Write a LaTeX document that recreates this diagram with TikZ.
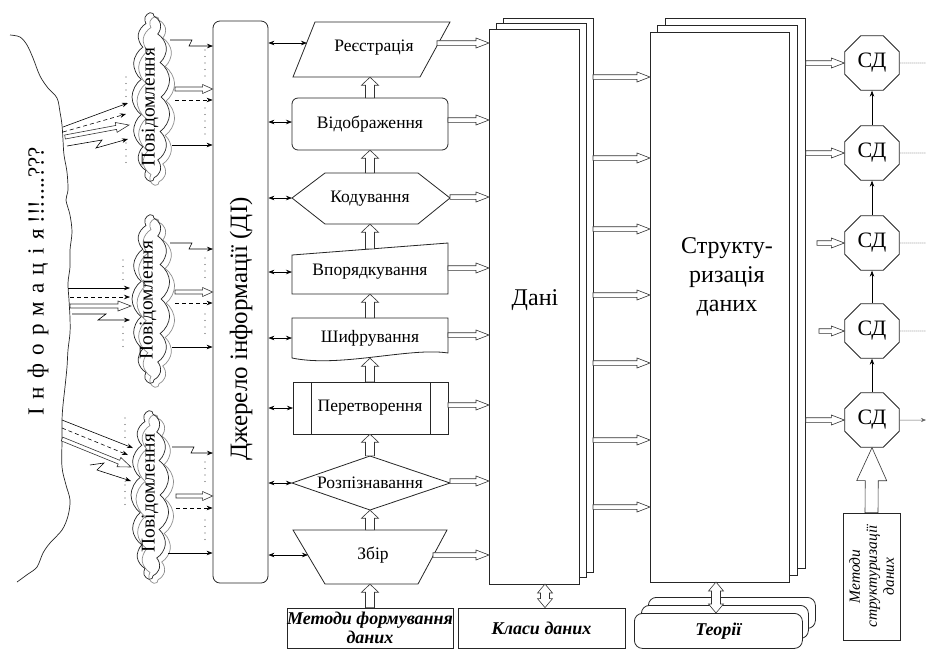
\documentclass[tikz,border=0pt]{standalone}
\usepackage{fontspec}
\setmainfont{Liberation Serif}
\usetikzlibrary{shapes.geometric,shapes.symbols,arrows.meta,calc}
\newcommand\haW{2pt}\newcommand\haH{5pt}\newcommand\haL{12pt}
\newcommand\hp[2]{({\x1+(#1)*cos(\n1)-(#2)*sin(\n1)},{\y1+(#1)*sin(\n1)+(#2)*cos(\n1)})}
\tikzset{
  hollow/.style n args={3}{draw=black!80, line width=0.6pt, fill=white,
    /utils/exec={\def\haW{#1}\def\haH{#2}\def\haL{#3}},
    to path={let \p1=(\tikztostart), \p2=(\tikztotarget),
      \n1={atan2(\y2-\y1,\x2-\x1)}, \n2={veclen(\x2-\x1,\y2-\y1)} in
      \hp{0}{\haW} -- \hp{\n2-\haL}{\haW} -- \hp{\n2-\haL}{\haH} -- (\p2)
      -- \hp{\n2-\haL}{-\haH} -- \hp{\n2-\haL}{-\haW} -- \hp{0}{-\haW} -- cycle}},
  hollowtwo/.style n args={3}{draw=black!80, line width=0.6pt, fill=white,
    /utils/exec={\def\haW{#1}\def\haH{#2}\def\haL{#3}},
    to path={let \p1=(\tikztostart), \p2=(\tikztotarget),
      \n1={atan2(\y2-\y1,\x2-\x1)}, \n2={veclen(\x2-\x1,\y2-\y1)} in
      (\p1) -- \hp{\haL}{\haH} -- \hp{\haL}{\haW} -- \hp{\n2-\haL}{\haW} -- \hp{\n2-\haL}{\haH} -- (\p2)
      -- \hp{\n2-\haL}{-\haH} -- \hp{\n2-\haL}{-\haW} -- \hp{\haL}{-\haW} -- \hp{\haL}{-\haH} -- cycle}},
  box/.style={draw=black!85, line width=0.8pt, fill=white},
  lab/.style={inner sep=0pt, font=\fontsize{17.5}{19}\selectfont},
  tarr/.style={-{Stealth[length=6pt,width=4.5pt]}, line width=0.6pt},
  darr/.style={{Stealth[length=6pt,width=4.5pt]}-{Stealth[length=6pt,width=4.5pt]}, line width=0.6pt},
  dsh/.style={tarr, dash pattern=on 4pt off 3pt},
  dots/.style={line width=1.2pt, dash pattern=on 0pt off 6.5pt, line cap=round, black!70},
  fdots/.style={line width=0.6pt, dash pattern=on 1pt off 1pt, black!50},
  cl/.style={cloud, cloud puffs=15, cloud puff arc=110, cloud ignores aspect, line width=0.7pt,
    minimum width=168, minimum height=38, rotate=90, inner sep=0pt},
  ptxt/.style={rotate=90, font=\fontsize{19.5}{19.5}\selectfont},
  hsmall/.style={hollow={2pt}{4.5pt}{10pt}},
  hmid/.style={hollow={2.3pt}{5pt}{13pt}},
  hup/.style={hollow={4.5pt}{8.5pt}{8pt}},
  oct/.style={draw=black!85, line width=0.8pt, fill=white, regular polygon, regular polygon sides=8,
    minimum size=59, inner sep=0pt, font=\fontsize{22}{22}\selectfont},
  bi/.style={font=\bfseries\itshape\fontsize{18}{19}\selectfont, align=center}
}
\begin{document}
\begin{tikzpicture}[x=1pt,y=-1pt]
\useasboundingbox (0,0) rectangle (926,649);

% coast line
\draw[line width=0.7pt, black!85] plot[smooth,tension=0.55] coordinates {(10,35) (20,37) (27,45) (33,58) (40,76) (48,88) (57,98) (60,112) (62,125) (63,140) (64,155) (67,172) (68,190) (66,200) (70,215) (72,232) (70,250) (70,267) (68,283) (69,300) (70,318) (70,333) (68,350) (67,367) (65,387) (63,405) (62,420) (62,440) (62,467) (66,485) (70,500) (68,516) (62,530) (50,543) (43,553) (37,567) (28,574) (17,582)};
\node[rotate=90, font=\fontsize{23}{23}\selectfont] (info) at (38,281) {{\addfontfeature{LetterSpace=36}Інформація} !!!....???};

% clouds
\node[cl, draw=black!45] (cl1g) at (156,101) {};
\node[cl, draw=black!85] (cl1) at (151,97) {};
\node[ptxt] (p1) at (150,107) {Повідомлення};
\node[cl, draw=black!45] (cl2g) at (156,303) {};
\node[cl, draw=black!85] (cl2) at (151,299) {};
\node[ptxt] (p2) at (148,300) {Повідомлення};
\node[cl, draw=black!45] (cl3g) at (155,499) {};
\node[cl, draw=black!85] (cl3) at (150,495) {};
\node[ptxt] (p3) at (150,493) {Повідомлення};

% source box
\node[box, rounded corners=7, minimum width=55, minimum height=562, inner sep=0pt] (src) at (240.5,302) {};
\node[rotate=90, font=\fontsize{25}{25}\selectfont] (srct) at (241,329) {Джерело інформації (ДІ)};

% cloud 1 arrows
\coordinate (a1s) at (63,127); \coordinate (b1s) at (128,103);
\draw[tarr] (a1s) -- (b1s);
\coordinate (a1d) at (63,132); \coordinate (b1d) at (126,114);
\draw[dsh] (a1d) -- (b1d);
\coordinate (a1h) at (65,137); \coordinate (b1h) at (129,125);
\draw[hollow={2pt}{5pt}{13pt}] (a1h) to (b1h);
\coordinate (a1z) at (67,146); \coordinate (b1z) at (128,139);
\draw[tarr] (a1z) -- (102,140) -- (96,148) -- (b1z);
\draw[dots] (126,77) -- (126,100); \draw[dots] (126,143) -- (126,167);
\coordinate (r1z) at (170,40); \coordinate (t1z) at (213,46);
\draw[tarr] (r1z) -- ++(22,0) -- ++(-3,6) -- (t1z);
\coordinate (r1h) at (175,89); \draw[hsmall] (r1h) to (src.west |- r1h);
\coordinate (r1d) at (175,100); \draw[dsh] (r1d) -- (src.west |- r1d);
\coordinate (r1s) at (172,145); \draw[tarr] (r1s) -- (src.west |- r1s);
\draw[dots] (205,50) -- (205,80); \draw[dots] (205,108) -- (205,135);

% cloud 2 arrows
\coordinate (a2s) at (68,288); \coordinate (b2s) at (130,288);
\draw[tarr] (a2s) -- (b2s);
\coordinate (a2d) at (70,297); \coordinate (b2d) at (130,297);
\draw[dsh] (a2d) -- (b2d);
\coordinate (a2h) at (70,306); \coordinate (b2h) at (131,306);
\draw[hollow={2pt}{5pt}{13pt}] (a2h) to (b2h);
\coordinate (a2z) at (72,314); \coordinate (b2z) at (130,320);
\draw[tarr] (a2z) -- ++(34,0) -- ++(-8,6) -- (b2z);
\draw[dots] (123,260) -- (123,282); \draw[dots] (123,327) -- (123,347);
\coordinate (r2z) at (170,243); \coordinate (t2z) at (213,249);
\draw[tarr] (r2z) -- ++(22,0) -- ++(-3,6) -- (t2z);
\coordinate (r2h) at (175,292); \draw[hsmall] (r2h) to (src.west |- r2h);
\coordinate (r2d) at (175,303); \draw[dsh] (r2d) -- (src.west |- r2d);
\coordinate (r2s) at (172,347); \draw[tarr] (r2s) -- (src.west |- r2s);
\draw[dots] (205,258) -- (205,282); \draw[dots] (205,314) -- (205,336);

% cloud 3 arrows
\coordinate (a3s) at (62,420); \coordinate (b3s) at (133,448);
\draw[tarr] (a3s) -- (b3s);
\coordinate (a3d) at (62,428); \coordinate (b3d) at (128,455);
\draw[dsh] (a3d) -- (b3d);
\coordinate (a3h) at (62,439); \coordinate (b3h) at (131,467);
\draw[hollow={2pt}{5pt}{13pt}] (a3h) to (b3h);
\coordinate (a3z) at (90,465); \coordinate (b3z) at (131,481);
\draw[tarr] (a3z) -- (104,463) -- (97,470) -- (b3z);
\draw[dots] (125,418) -- (125,442); \draw[dots] (125,485) -- (125,508);
\coordinate (r3z) at (172,447); \coordinate (t3z) at (213,453);
\draw[tarr] (r3z) -- ++(22,0) -- ++(-3,6) -- (t3z);
\coordinate (r3h) at (176,496); \draw[hsmall] (r3h) to (src.west |- r3h);
\coordinate (r3d) at (176,508); \draw[dsh] (r3d) -- (src.west |- r3d);
\coordinate (r3s) at (168,553); \draw[tarr] (r3s) -- (src.west |- r3s);
\draw[dots] (205,462) -- (205,485); \draw[dots] (205,520) -- (205,542);

% Дані stack
\node[box, minimum width=90, minimum height=554, anchor=north west, inner sep=0pt] (danib) at (503,18) {};
\node[box, minimum width=90, minimum height=554, anchor=north west, inner sep=0pt] (danim) at (496,23) {};
\node[box, minimum width=90, minimum height=555, anchor=north west, inner sep=0pt] (dani) at (489,29) {};
\node[font=\fontsize{24}{24}\selectfont] (danit) at (535,300) {Дані};

% middle column shapes
\draw[box] (315,22) -- (450,22) -- (420,77) -- (293,77) -- cycle;
\node[lab, minimum width=110, minimum height=55] (reg) at (370,49.5) {};
\node[lab] (regt) at (374,48) {Реєстрація};
\draw[box, rounded corners=6] (292,98) rectangle (448,150);
\node[lab, minimum width=150, minimum height=52] (vid) at (370,124) {Відображення};
\draw[box] (292,198) -- (325,173) -- (418,173) -- (450,198) -- (418,224) -- (325,224) -- cycle;
\node[lab, minimum width=120, minimum height=51] (kod) at (370,198.5) {Кодування};
\draw[box] (292,255) -- (448,243) -- (448,294) -- (292,294) -- cycle;
\node[lab, minimum width=150, minimum height=45] (vpo) at (370,271.5) {Впорядкування};
\draw[box] (292,318) -- (448,318) -- (448,353) .. controls (410,347) and (340,368) .. (292,358) -- cycle;
\node[lab, minimum width=150, minimum height=40] (shi) at (370,338) {Шифрування};
\draw[box] (293,382) rectangle (448,434);
\draw[box] (311,382) -- (311,434); \draw[box] (430,382) -- (430,434);
\node[lab, minimum width=110, minimum height=52] (per) at (370,408) {Перетворення};
\draw[box] (292,483) -- (370,456) -- (450,483) -- (370,510) -- cycle;
\node[lab, minimum width=120, minimum height=54] (roz) at (370,483) {Розпізнавання};
\draw[box] (293,530) -- (447,530) -- (418,584) -- (325,584) -- cycle;
\node[lab, minimum width=100, minimum height=54] (zbir) at (370,557) {};
\node[lab] (zbirt) at (373,555) {Збір};
\node[box, bi, minimum width=165, minimum height=40, inner sep=0pt] (metf) at (370,628) {Методи формування\\даних};

% up arrows
\draw[hup] (vid.north) to (reg.south);
\draw[hup] (kod.north) to (vid.south);
\draw[hup] (vpo.north) to (kod.south);
\draw[hup] (shi.north) to (vpo.south);
\draw[hup] (per.north) to (shi.south);
\draw[hup] (roz.north) to (per.south);
\draw[hup] (zbir.north) to (roz.south);
\draw[hup] (metf.north) to (zbir.south);

% left double arrows
\coordinate (regL) at (307,43); \draw[darr] (src.east |- regL) -- (regL);
\coordinate (vidL) at (292,122); \draw[darr] (src.east |- vidL) -- (vidL);
\coordinate (kodL) at (292,198); \draw[darr] (src.east |- kodL) -- (kodL);
\coordinate (vpoL) at (292,272); \draw[darr] (src.east |- vpoL) -- (vpoL);
\coordinate (shiL) at (292,338); \draw[darr] (src.east |- shiL) -- (shiL);
\coordinate (perL) at (293,408); \draw[darr] (src.east |- perL) -- (perL);
\coordinate (rozL) at (292,483); \draw[darr] (src.east |- rozL) -- (rozL);
\coordinate (zbirL) at (308,555); \draw[darr] (src.east |- zbirL) -- (zbirL);

% right hollow arrows to Дані
\coordinate (regR) at (437,43); \draw[hmid] (regR) to (dani.west |- regR);
\coordinate (vidR) at (448,120); \draw[hmid] (vidR) to (dani.west |- vidR);
\coordinate (kodR) at (450,197); \draw[hmid] (kodR) to (dani.west |- kodR);
\coordinate (vpoR) at (448,268); \draw[hmid] (vpoR) to (dani.west |- vpoR);
\coordinate (shiR) at (448,335); \draw[hmid] (shiR) to (dani.west |- shiR);
\coordinate (perR) at (448,405); \draw[hmid] (perR) to (dani.west |- perR);
\coordinate (rozR) at (450,481); \draw[hmid] (rozR) to (dani.west |- rozR);
\coordinate (zbirR) at (433,555); \draw[hmid] (zbirR) to (dani.west |- zbirR);

% Класи даних
\node[box, bi, minimum width=167, minimum height=40, inner sep=0pt] (klasy) at (541.5,628) {Класи даних};
\coordinate (dk) at (545,584);
\draw[hollowtwo={4.5pt}{7.5pt}{9pt}] (dk) to (klasy.north -| dk);

% Структуризація stack
\node[box, minimum width=140, minimum height=550, anchor=north west, inner sep=0pt] (strb) at (665,18) {};
\node[box, minimum width=140, minimum height=550, anchor=north west, inner sep=0pt] (strm) at (657,25) {};
\node[box, minimum width=139, minimum height=550, anchor=north west, inner sep=0pt] (strf) at (650,32) {};
\node[align=center, font=\fontsize{24}{29}\selectfont] (strt) at (727,277) {Структу-\\ризація\\даних};

\foreach \yy [count=\i] in {77,158,229,295,363,440,507} {
  \coordinate (ds\i) at (593,\yy);
  \draw[hmid] (ds\i) to (strf.west |- ds\i);
}

% Теорії
\node[box, rounded corners=8, minimum width=167, minimum height=31, anchor=north west] (teob) at (648,597) {};
\node[box, rounded corners=8, minimum width=167, minimum height=33, anchor=north west] (teom) at (641,605) {};
\node[box, bi, rounded corners=8, minimum width=168, minimum height=35, anchor=north west] (teo) at (634,613) {Теорії};
\coordinate (st) at (716,582);
\draw[hollowtwo={4.5pt}{7.5pt}{9pt}] (st) to (teo.north -| st);

% octagons
\node[oct] (o1) at (872,63) {СД};
\node[oct] (o2) at (872,153) {СД};
\node[oct] (o3) at (872,243) {СД};
\node[oct] (o4) at (872,331) {СД};
\node[oct] (o5) at (872,420) {СД};
\draw[tarr] (o2.north) -- (o1.south);
\draw[tarr] (o3.north) -- (o2.south);
\draw[tarr] (o4.north) -- (o3.south);
\draw[tarr] (o5.north) -- (o4.south);
\draw[hmid] (strb.east |- o1.west) to (o1.west);
\draw[hmid] (strb.east |- o2.west) to (o2.west);
\coordinate (i3) at (817,243); \draw[hmid] (i3) to (o3.west);
\coordinate (i4) at (819,331); \draw[hmid] (i4) to (o4.west);
\draw[hmid] (strb.east |- o5.west) to (o5.west);
\coordinate (e1) at (926,63); \draw[fdots] (o1.east) -- (e1);
\coordinate (e2) at (926,153); \draw[fdots] (o2.east) -- (e2);
\coordinate (e3) at (926,243); \draw[fdots] (o3.east) -- (e3);
\coordinate (e4) at (926,331); \draw[fdots] (o4.east) -- (e4);
\coordinate (e5) at (926,420); \draw[-{Stealth[length=5pt,width=4pt]}, line width=0.5pt, black!60] (o5.east) -- (e5);

% Методи структуризації даних
\node[box, minimum width=57, minimum height=127, inner sep=0pt] (mets) at (871.5,576.5) {};
\node[rotate=90, align=center, font=\itshape\fontsize{15.5}{17}\selectfont] (metst) at (mets) {Методи\\структуризації\\даних};
\draw[hollow={6.5pt}{15pt}{33pt}] (mets.north) to (o5.south);
\end{tikzpicture}
\end{document}
